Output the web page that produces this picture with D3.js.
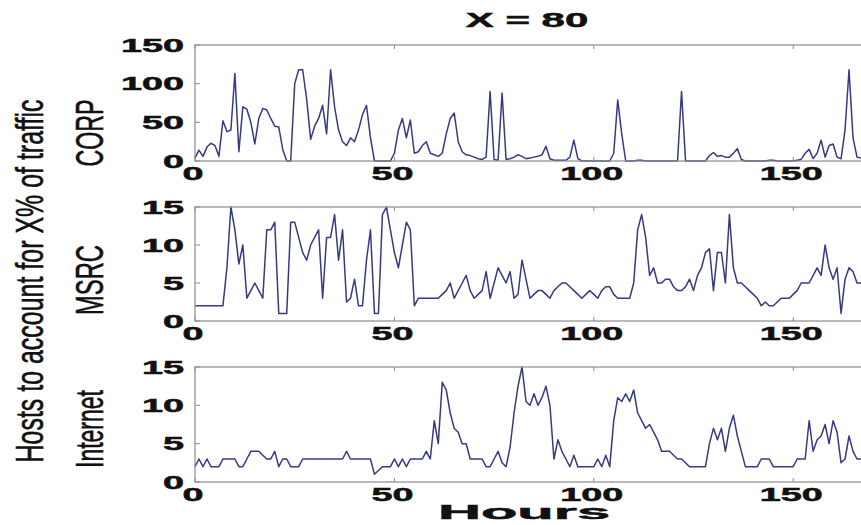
<!DOCTYPE html>
<html>
<head>
<meta charset="utf-8">
<script src="https://cdn.jsdelivr.net/npm/d3@7"></script>
<style>
html,body{margin:0;padding:0;background:#fff;overflow:hidden;}
svg{display:block;}
text{font-family:"Liberation Sans",Arial,Helvetica,sans-serif;}
</style>
</head>
<body>
<svg id="chart" width="861" height="525"></svg>
<script>
// ---------- data (hosts accounting for X% of traffic, hourly) ----------
const hours = d3.range(0, 168);
const corp = [
  4,14,6,18,23,20,6,52,38,40,
  113,12,70,67,50,22,55,68,66,55,
  45,44,15,0,0,100,118,118,80,28,
  45,55,72,35,118,70,40,25,20,30,
  25,40,60,72,30,0,0,0,0,0,
  10,40,55,30,53,10,12,20,25,10,
  8,6,10,35,55,62,25,12,8,7,
  5,3,2,5,90,2,1,88,2,3,
  5,8,6,3,4,5,6,8,19,3,
  1,1,1,1,5,27,3,0,0,0,
  0,0,0,0,0,10,79,35,0,0,
  0,1,1,0,0,0,0,0,0,0,
  0,0,90,0,0,0,0,0,0,7,
  11,6,7,5,5,10,16,2,0,0,
  0,0,0,0,1,1,0,0,0,0,
  0,1,2,10,15,3,10,27,5,20,
  22,5,3,40,118,30,5,4
];
const msrc = [
  2,2,2,2,2,2,2,2,7,15,
  12,7.5,10,3,4,5,4,3,12,12,
  13,1,1,1,13,13,11,9,8,10,
  11,12,3,11,11,14,8,12,2.5,3,
  5.5,2,2,8,12,1,1,14,15,12,
  9,7,10,13,12,2,3,3,3,3,
  3,3,3.5,4,5,3,4,5,6,4,
  3,3.5,4,6.5,3,5,7,6,5,6.5,
  3,3.5,8,5.5,3,3.5,4,4,3.5,3,
  4,4.5,5,5,4.5,4,3.5,3,3.5,4,
  3.5,3,4,4.5,4.5,3.5,3,3,3,3,
  5,12,14,11,6,7,5,5,5.5,5.5,
  4.5,4,4,4.5,5.5,4,6,7,9,9.5,
  4,9,9,5,14,7,5,5,4.5,4,
  3.5,3,2,2.5,2,2,2.5,3,3,3,
  3.5,4,5,5,5,6,7,6,10,7,
  5.5,7,1,5.5,7,6.5,5,5
];
const internet = [
  2,3,2,3,2,2,2,3,3,3,
  3,2,2,3,4,4,4,3.5,3,3,
  4,2,3,3,2,2,2,3,3,3,
  3,3,3,3,3,3,3,3,4,3,
  3,3,3,3,3,1,1.5,2,2,2,
  3,2,3,2,3,3,3,3,4,3,
  8,5,13,12,9,7,6.5,5,5,3,
  3,3,3,2,2,3,4,2.5,2,4.5,
  9,12.5,15,10.5,10,11.5,10,11,12.5,10,
  3,5.5,4,3,2,3.5,2,2,2,2,
  2,3,2,3.5,2,8,11,10.5,11.5,10.5,
  12,9,8,7,7.5,6.5,5.5,4,4,4,
  3.5,3,3,2.5,2,2,2,2,2,5,
  7,5.5,7,4,7,8.7,6,4,2,2,
  2,2,3,3,3,2,2,2,2,2,
  2,3,3,3,8,4,5.5,6,7.5,5,
  8,6.5,2.5,3,6,4,3,3
];
const panelNames = ["CORP", "MSRC", "Internet"];
const corpTicks = [0, 50, 100, 150];
const smallTicks = [0, 5, 10, 15];
const xTicks = [0, 50, 100, 150];
const titleText = "X = 80";
const xLabel = "Hours";
const yLabel = "Hosts to account for X% of traffic";

// ---------- layout ----------
const svg = d3.select("#chart");
const X0 = 195, X1 = 861;
const x = d3.scaleLinear().domain([0, 167]).range([X0, X1]);

const panels = [
  {name: panelNames[0], data: corp, max: 150, ticks: corpTicks, top: 45, bottom: 161, labelY: 133, labelLen: 67},
  {name: panelNames[1], data: msrc, max: 15, ticks: smallTicks, top: 207, bottom: 321, labelY: 280, labelLen: 70},
  {name: panelNames[2], data: internet, max: 15, ticks: smallTicks, top: 367, bottom: 482, labelY: 429, labelLen: 78}
];

const SX = 2.1; // horizontal stretch of the original figure
const axisColor = "#8c8c8c";
const lineColor = "#363a86";
const ink = "#111";

function boldText(sel) {
  return sel.attr("font-weight", "bold").attr("fill", ink)
    .attr("stroke", ink).attr("stroke-width", 0.5);
}

panels.forEach(p => {
  const y = d3.scaleLinear().domain([0, p.max]).range([p.bottom, p.top]);
  const g = svg.append("g");

  // data line
  const line = d3.line().x((d, i) => x(hours[i])).y(d => y(d));
  g.append("path")
    .datum(p.data)
    .attr("fill", "none")
    .attr("stroke", lineColor)
    .attr("stroke-width", 1.5)
    .attr("stroke-linejoin", "round")
    .attr("d", line);

  // box
  g.append("rect")
    .attr("x", X0).attr("y", p.top)
    .attr("width", X1 - X0 + 2).attr("height", p.bottom - p.top)
    .attr("fill", "none").attr("stroke", axisColor).attr("stroke-width", 1.2);

  // y ticks (inside, left)
  p.ticks.forEach(t => {
    g.append("line")
      .attr("x1", X0).attr("x2", X0 + 5)
      .attr("y1", y(t)).attr("y2", y(t))
      .attr("stroke", axisColor).attr("stroke-width", 1);
    boldText(g.append("text"))
      .attr("transform", `translate(184,${y(t) + 6.5}) scale(${SX},1)`)
      .attr("text-anchor", "end")
      .attr("font-size", 18)
      .text(t);
  });

  // x ticks (inside, bottom and top)
  xTicks.forEach(t => {
    g.append("line")
      .attr("x1", x(t)).attr("x2", x(t))
      .attr("y1", p.bottom).attr("y2", p.bottom - 4)
      .attr("stroke", axisColor);
    g.append("line")
      .attr("x1", x(t)).attr("x2", x(t))
      .attr("y1", p.top).attr("y2", p.top + 4)
      .attr("stroke", axisColor);
    boldText(g.append("text"))
      .attr("transform", `translate(${x(t) - 2},${p.bottom + 19}) scale(${SX},1)`)
      .attr("text-anchor", "middle")
      .attr("font-size", 18)
      .text(t);
  });

  // panel label (rotated)
  svg.append("text")
    .attr("transform", `translate(103,${p.labelY}) scale(2,1) rotate(-90)`)
    .attr("text-anchor", "middle")
    .attr("font-size", 19).attr("fill", ink)
    .attr("stroke", ink).attr("stroke-width", 0.3)
    .attr("textLength", p.labelLen).attr("lengthAdjust", "spacingAndGlyphs")
    .text(p.name);
});

// title
boldText(svg.append("text"))
  .attr("transform", `translate(527,27) scale(2,1)`)
  .attr("text-anchor", "middle")
  .attr("font-size", 21)
  .text(titleText);

// x label
boldText(svg.append("text"))
  .attr("transform", `translate(524,519) scale(2,1)`)
  .attr("text-anchor", "middle")
  .attr("font-size", 21)
  .attr("textLength", 86).attr("lengthAdjust", "spacingAndGlyphs")
  .text(xLabel);

// y label
svg.append("text")
  .attr("transform", `translate(43,281) scale(2,1) rotate(-90)`)
  .attr("text-anchor", "middle")
  .attr("font-size", 19.5).attr("fill", ink)
  .attr("stroke", ink).attr("stroke-width", 0.3)
  .attr("textLength", 363).attr("lengthAdjust", "spacingAndGlyphs")
  .text(yLabel);
</script>
</body>
</html>
